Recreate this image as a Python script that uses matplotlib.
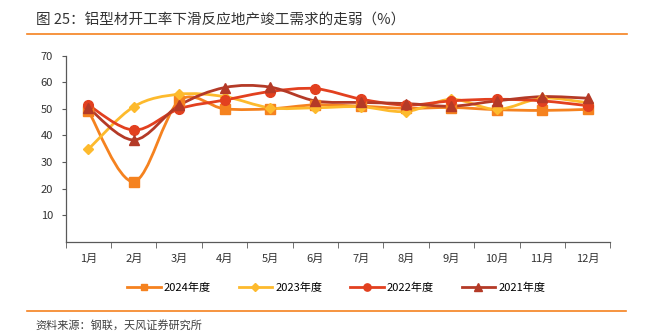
import numpy as np
import matplotlib
matplotlib.use("Agg")
from matplotlib import pyplot as plt
from matplotlib.path import Path
from matplotlib.patches import PathPatch
from matplotlib.lines import Line2D

plt.rcParams['font.family'] = ['Noto Sans CJK SC', 'DejaVu Sans']

months = ["1月", "2月", "3月", "4月", "5月", "6月", "7月", "8月", "9月", "10月", "11月", "12月"]
y2024 = [49.2, 22.6, 53.0, 50.0, 50.0, 51.5, 51.0, 50.2, 50.5, 49.7, 49.4, 49.8]
y2023 = [34.8, 50.8, 55.5, 54.6, 50.4, 50.4, 50.8, 49.0, 53.6, 49.8, 54.0, 52.3]
y2022 = [51.4, 42.0, 50.0, 53.3, 56.5, 57.6, 53.7, 51.4, 53.0, 53.6, 53.0, 51.2]
y2021 = [50.4, 38.3, 51.3, 58.0, 58.2, 53.0, 52.4, 52.0, 51.0, 53.0, 54.6, 54.0]
labels = ["2024年度", "2023年度", "2022年度", "2021年度"]

series = [y2024, y2023, y2022, y2021]
colors = ["#F5821F", "#FDBA2D", "#E2401F", "#B43A27"]
markers = ["s", "D", "o", "^"]
msizes = [6.5, 5.5, 7, 7]

fig = plt.figure(figsize=(6.53, 3.31), dpi=100)
ax = fig.add_axes([0.1006, 0.2698, 0.8340, 0.5619])


def smooth_path(x, y, t=1/6):
    # excel-style smoothed line: bezier segments through the points
    x = np.asarray(x, float); y = np.asarray(y, float)
    n = len(x)
    verts = [(x[0], y[0])]
    codes = [Path.MOVETO]
    for i in range(n - 1):
        p0 = (x[i - 1], y[i - 1]) if i > 0 else (x[i], y[i])
        p1 = (x[i], y[i]); p2 = (x[i + 1], y[i + 1])
        p3 = (x[i + 2], y[i + 2]) if i + 2 < n else p2
        c1 = (p1[0] + (p2[0] - p0[0]) * t, p1[1] + (p2[1] - p0[1]) * t)
        c2 = (p2[0] - (p3[0] - p1[0]) * t, p2[1] - (p3[1] - p1[1]) * t)
        verts += [c1, c2, p2]
        codes += [Path.CURVE4] * 3
    return Path(verts, codes)


xs = np.arange(len(months))
for ys, c, m, ms in zip(series, colors, markers, msizes):
    ax.add_patch(PathPatch(smooth_path(xs, ys), facecolor='none', edgecolor=c, lw=2, zorder=2))
    ax.plot(xs, ys, ls='none', marker=m, ms=ms, color=c, zorder=3)

ax.set_xlim(-0.5, 11.5)
ax.set_ylim(0, 70)
ax.set_yticks(range(10, 80, 10))
ax.set_xticks(xs)
ax.set_xticklabels(months)
ax.set_xticks(np.arange(-0.5, 12, 1), minor=True)
ax.tick_params(axis='x', which='major', length=0, pad=9, labelsize=8, colors='#333333')
ax.tick_params(axis='x', which='minor', length=4, color='#595959')
ax.tick_params(axis='y', length=3, labelsize=8, colors='#333333', color='#595959', pad=6)
for s in ['top', 'right']:
    ax.spines[s].set_visible(False)
for s in ['left', 'bottom']:
    ax.spines[s].set_color('#595959')
    ax.spines[s].set_linewidth(0.9)

handles = [Line2D([], [], color=c, marker=m, ms=ms * 0.75, lw=2) for c, m, ms in zip(colors, markers, msizes)]
fig.legend(handles, labels, loc='center', bbox_to_anchor=(0.515, 0.131), ncol=4, frameon=False,
           fontsize=8, handlelength=3, columnspacing=2.5, handletextpad=0.3)

fig.text(0.055, 0.94, "图 25：铝型材开工率下滑反应地产竣工需求的走弱（%）", fontsize=10.5, color='#333333',
         va='center', ha='left', fontweight='medium')
fig.add_artist(Line2D([0.041, 0.960], [0.897, 0.897], color='#F5821F', lw=1.2))
fig.add_artist(Line2D([0.041, 0.958], [0.060, 0.060], color='#F5821F', lw=1.2))
fig.text(0.055, 0.016, "资料来源：钢联，天风证券研究所", fontsize=8, color='#404040', va='center', ha='left')

fig.savefig("out.png", dpi=100)
